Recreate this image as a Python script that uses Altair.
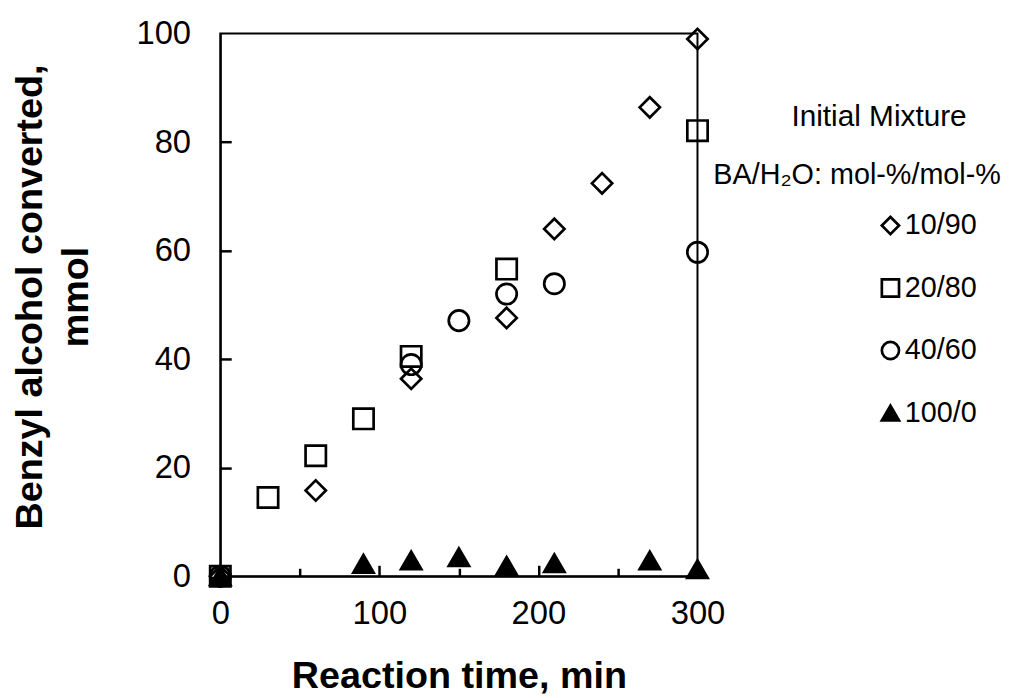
import altair as alt
import pandas as pd

# ---- data ----
series_names = ["10/90", "20/80", "40/60", "100/0"]
series_shapes = ["diamond", "square", "circle", "triangle-up"]
series_fills = ["transparent", "transparent", "transparent", "black"]
series_strokes = ["black", "black", "black", "black"]

t_10_90 = [0, 60, 120, 180, 210, 240, 270, 300]
v_10_90 = [0, 15.8, 36.4, 47.6, 64.0, 72.4, 86.4, 99.0]

t_20_80 = [0, 30, 60, 90, 120, 180, 300]
v_20_80 = [0, 14.5, 22.2, 29.0, 40.5, 56.6, 82.1]

t_40_60 = [0, 120, 150, 180, 210, 300]
v_40_60 = [0, 39.0, 47.1, 52.0, 53.9, 59.7]

t_100_0 = [0, 90, 120, 150, 180, 210, 270, 300]
v_100_0 = [0, 2.3, 2.9, 3.5, 1.9, 2.4, 2.9, 1.3]

x_labels = [0, 100, 200, 300]
y_labels = [0, 20, 40, 60, 80, 100]
x_major_ticks = [100, 200]
x_minor_ticks = [50, 150, 250]
y_ticks = [20, 40, 60, 80]

legend_header_1 = "Initial Mixture"
legend_header_2 = "BA/H\u2082O: mol-%/mol-%"
x_title = "Reaction time, min"
y_title = ["Benzyl alcohol converted,", "mmol"]

rows = []
for name, ts, vs in [("10/90", t_10_90, v_10_90), ("20/80", t_20_80, v_20_80),
                     ("40/60", t_40_60, v_40_60), ("100/0", t_100_0, v_100_0)]:
    for t, v in zip(ts, vs):
        rows.append({"series": name, "time": t, "conv": v})
df = pd.DataFrame(rows)

W, H = 481, 547
FONT = "Liberation Sans"

xscale = alt.Scale(domain=[0, 300], nice=False, zero=False)
yscale = alt.Scale(domain=[0, 100], nice=False, zero=False)


def make_legend():
    return alt.Legend(title=None, orient="none", legendX=661, legendY=179,
                      labelFont=FONT, labelFontSize=29, labelColor="black",
                      symbolSize=300, symbolStrokeWidth=2.7,
                      labelOffset=0, rowPadding=33)


points = alt.Chart(df).mark_point(
    filled=True, strokeWidth=2.7, size=420, opacity=1
).encode(
    x=alt.X("time:Q", scale=xscale,
            axis=alt.Axis(values=x_labels, ticks=False, grid=False, labelPadding=22,
                          labelFlush=False,
                          labelFontSize=33, labelFont=FONT, labelColor="black",
                          domainColor="black", domainWidth=2,
                          title=x_title, titleFont=FONT, titleFontSize=38,
                          titleFontWeight="bold", titleColor="black",
                          titleBaseline="alphabetic", titleY=112)),
    y=alt.Y("conv:Q", scale=yscale,
            axis=alt.Axis(values=y_labels, ticks=False, grid=False, labelPadding=30,
                          labelFlush=False,
                          labelFontSize=33, labelFont=FONT, labelColor="black",
                          domainColor="black", domainWidth=2,
                          title=y_title, titleFont=FONT, titleFontSize=38,
                          titleFontWeight="bold", titleColor="black",
                          titleAngle=270, titleBaseline="alphabetic",
                          titleAlign="center", titleLineHeight=46,
                          titleX=-180, titleY=265)),
    shape=alt.Shape("series:N",
                    scale=alt.Scale(domain=series_names, range=series_shapes),
                    legend=make_legend()),
    fill=alt.Fill("series:N",
                  scale=alt.Scale(domain=series_names, range=series_fills),
                  legend=make_legend()),
    stroke=alt.Stroke("series:N",
                      scale=alt.Scale(domain=series_names, range=series_strokes),
                      legend=make_legend()),
)


# inward tick marks (Excel style) drawn by extra tick-only axes moved inside the plot
def tick_axis(values, length, orient):
    return alt.Axis(values=values, orient=orient, offset=-length, tickSize=length,
                    tickWidth=2.5, tickColor="black", ticks=True, domain=False,
                    labels=False, grid=False, title=None)


xmaj = alt.Chart(df).mark_point(opacity=0).encode(
    x=alt.X("time:Q", scale=xscale, axis=tick_axis(x_major_ticks, 11, "bottom")),
    y=alt.Y("conv:Q", scale=yscale, axis=None))
xmin = alt.Chart(df).mark_point(opacity=0).encode(
    x=alt.X("time:Q", scale=xscale, axis=tick_axis(x_minor_ticks, 8, "bottom")),
    y=alt.Y("conv:Q", scale=yscale, axis=None))
ytk = alt.Chart(df).mark_point(opacity=0).encode(
    x=alt.X("time:Q", scale=xscale, axis=None),
    y=alt.Y("conv:Q", scale=yscale, axis=tick_axis(y_ticks, 11, "left")))

head1 = alt.Chart(pd.DataFrame({"s": [legend_header_1]})).mark_text(
    font=FONT, fontSize=30, color="black", align="center", baseline="alphabetic"
).encode(text="s:N", x=alt.value(664), y=alt.value(93))
head2 = alt.Chart(pd.DataFrame({"s": [legend_header_2]})).mark_text(
    font=FONT, fontSize=29, color="black", align="left", baseline="alphabetic"
).encode(text="s:N", x=alt.value(497), y=alt.value(152))

chart = alt.layer(points, xmaj, xmin, ytk, head1, head2).resolve_axis(
    x="independent", y="independent"
).properties(
    width=W, height=H,
    background="white",
    autosize=alt.AutoSizeParams(type="none"),
    padding={"left": 214, "top": 23, "right": 313, "bottom": 120},
).configure_view(stroke="black", strokeWidth=2)

chart.save("out.html", embed_options={"renderer": "svg", "actions": False})
